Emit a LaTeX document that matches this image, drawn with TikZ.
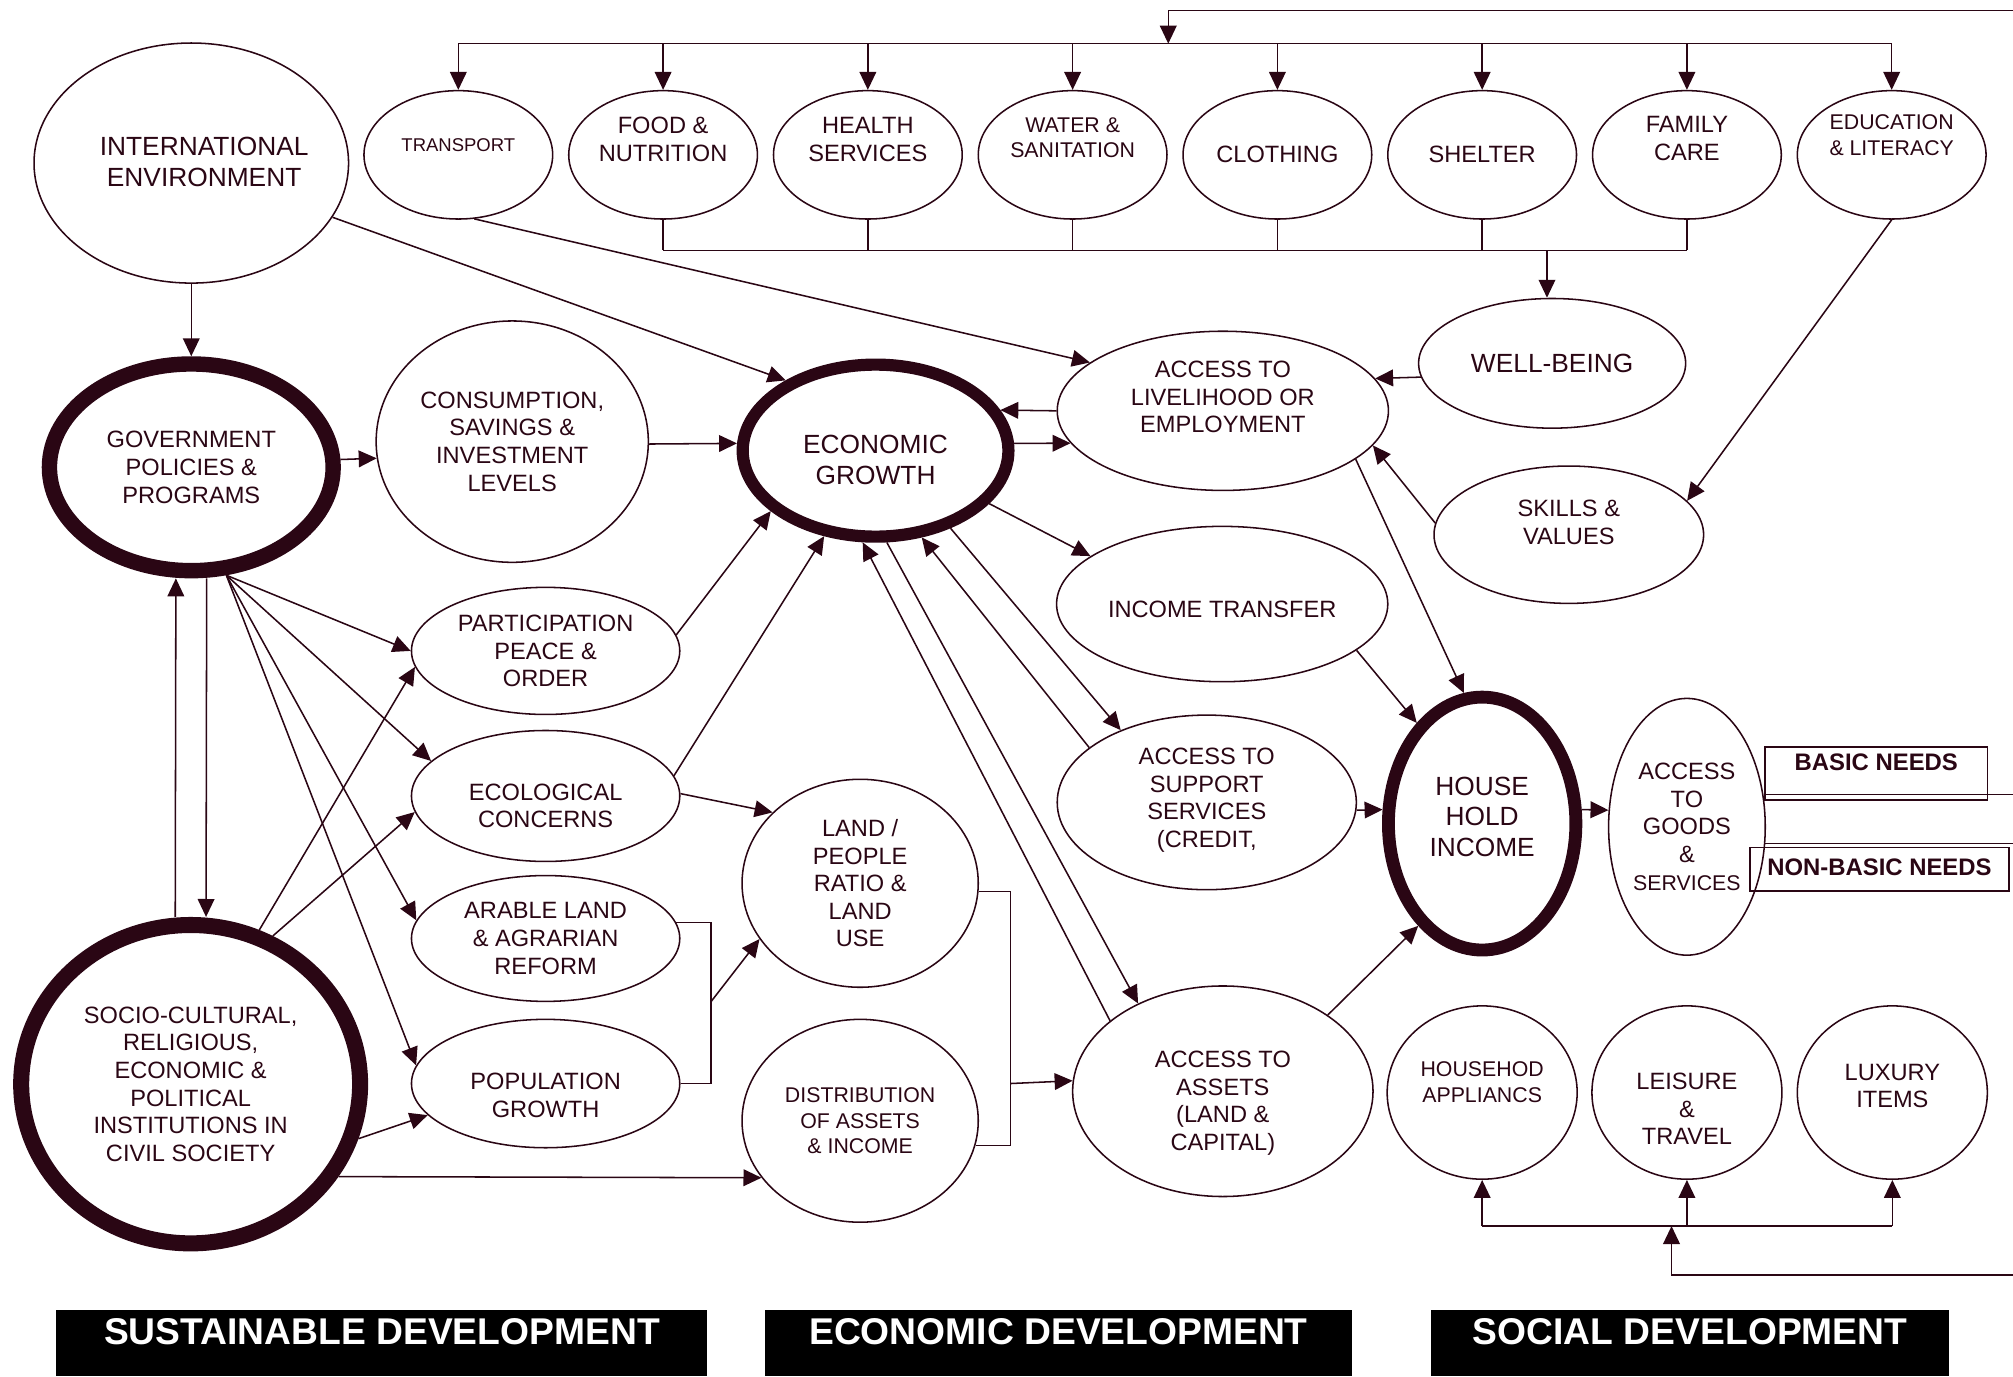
\documentclass[tikz,border=0pt]{standalone}
\usepackage{fontspec}
\setmainfont{Liberation Sans}
\usetikzlibrary{shapes.geometric}
\usetikzlibrary{arrows.meta}
\definecolor{ink}{RGB}{42,6,20}
\newcommand{\sizebig}{\fontsize{20.5}{24}\selectfont}
\newcommand{\sizenorm}{\fontsize{18.4}{21.5}\selectfont}
\newcommand{\sizesmall}{\fontsize{16.6}{20}\selectfont}
\newcommand{\sizetiny}{\fontsize{14.4}{17}\selectfont}
% stack of lines moved up (or down) inside its bubble
\newcommand{\liftup}[2]{\raisebox{#1}[0pt][0pt]{\begin{tabular}{@{}c@{}}#2\end{tabular}}}
\tikzstyle{bubble}=[draw=ink,ellipse,line width=1.2pt,inner sep=0pt,align=center,text=ink]
\tikzstyle{topbubble}=[bubble,minimum width=147pt,minimum height=100pt]
\tikzstyle{midbubble}=[bubble,minimum width=209pt,minimum height=99pt,font=\sizenorm]
\tikzstyle{lowbubble}=[bubble,minimum width=148pt,minimum height=135pt]
\tikzstyle{link}=[draw=ink,line width=1.2pt,-{Triangle[length=14pt,width=13pt]}]
\tikzstyle{wire}=[draw=ink,line width=1.2pt]
\tikzstyle{needbox}=[draw=ink,line width=1.2pt,inner sep=3pt,text=ink,text height=13.5pt,font=\bfseries\fontsize{18.6}{22}\selectfont]
\tikzstyle{banner}=[fill=black,text=white,inner sep=3pt,minimum height=52pt,text height=21pt,text depth=18.2pt,font=\bfseries\fontsize{29}{34}\selectfont]

\begin{document}
\begin{tikzpicture}[x=1pt,y=-1pt]
\useasboundingbox (0,0) rectangle (1568,1072);
% outer environment, state and society
\node[bubble,font=\sizebig,minimum width=245pt,minimum height=187pt] (intl) at (149,127) {\makebox[0pt]{\hspace*{20pt}\liftup{-6.7pt}{INTERNATIONAL\\ENVIRONMENT}}};
\node[bubble,font=\sizenorm,line width=12pt,minimum width=221pt,minimum height=161pt] (govt) at (149,364) {GOVERNMENT\\POLICIES \&\\PROGRAMS};
\node[bubble,font=\sizenorm,line width=12.5pt,minimum width=264pt,minimum height=248pt] (socio) at (148.5,844.5) {SOCIO-CULTURAL,\\RELIGIOUS,\\ECONOMIC \&\\POLITICAL\\INSTITUTIONS IN\\CIVIL SOCIETY};
% basic services along the top
\node[topbubble,font=\sizetiny] (transport) at (357,120.6) {\liftup{2.2pt}{TRANSPORT}};
\node[topbubble,font=\sizenorm] (food) at (516.5,120.6) {\liftup{5.9pt}{FOOD \&\\NUTRITION}};
\node[topbubble,font=\sizenorm] (health) at (676,120.6) {\liftup{5.9pt}{HEALTH\\SERVICES}};
\node[topbubble,font=\sizesmall] (water) at (835.5,120.6) {\liftup{7.3pt}{WATER \&\\SANITATION}};
\node[topbubble,font=\sizenorm] (cloth) at (995,120.6) {CLOTHING};
\node[topbubble,font=\sizenorm] (shelter) at (1154.5,120.6) {SHELTER};
\node[topbubble,font=\sizenorm] (family) at (1314,120.6) {\liftup{6.3pt}{FAMILY\\CARE}};
\node[topbubble,font=\sizesmall] (educ) at (1473.5,120.6) {\liftup{9.5pt}{EDUCATION\\\& LITERACY}};
% economy
\node[bubble,font=\sizenorm,minimum width=212pt,minimum height=188pt] (consump) at (399,344) {CONSUMPTION,\\SAVINGS \&\\INVESTMENT\\LEVELS};
\node[bubble,font=\sizebig,line width=9.5pt,minimum width=207pt,minimum height=134pt] (econ) at (682,351) {\liftup{-14.5pt}{ECONOMIC\\GROWTH}};
\node[midbubble] (partic) at (425,507) {PARTICIPATION\\PEACE \&\\ORDER};
\node[midbubble,minimum height=102pt] (ecol) at (425,620) {\liftup{-14pt}{ECOLOGICAL\\CONCERNS}};
\node[midbubble,minimum height=98pt] (arable) at (425,731) {ARABLE LAND\\\& AGRARIAN\\REFORM};
\node[midbubble,minimum height=100pt] (popul) at (425,844) {\liftup{-15.7pt}{POPULATION\\GROWTH}};
\node[bubble,font=\sizenorm,minimum width=184pt,minimum height=162pt] (land) at (670,688) {LAND /\\PEOPLE\\RATIO \&\\LAND\\USE};
\node[bubble,font=\sizesmall,minimum width=184pt,minimum height=158pt] (distrib) at (670,873) {DISTRIBUTION\\OF ASSETS\\\& INCOME};
\node[bubble,font=\sizenorm,minimum width=258pt,minimum height=124pt] (livelihood) at (952.5,320) {\liftup{4.4pt}{ACCESS TO\\LIVELIHOOD OR\\EMPLOYMENT}};
\node[bubble,font=\sizenorm,minimum width=258pt,minimum height=121pt] (transfer) at (952,470.5) {\liftup{-10.4pt}{INCOME TRANSFER}};
\node[bubble,font=\sizenorm,minimum width=233pt,minimum height=136pt] (support) at (940,625) {\liftup{-2.7pt}{ACCESS TO\\SUPPORT\\SERVICES\\(CREDIT,}};
\node[bubble,font=\sizenorm,minimum width=234pt,minimum height=164pt] (assets) at (952.5,850) {\liftup{-13.9pt}{ACCESS TO\\ASSETS\\(LAND \&\\CAPITAL)}};
% household side
\node[bubble,font=\sizebig,minimum width=208pt,minimum height=101pt] (wellbeing) at (1209,283) {WELL-BEING};
\node[bubble,font=\sizenorm,minimum width=210pt,minimum height=107pt] (skills) at (1222,416.5) {\liftup{3.1pt}{SKILLS \&\\VALUES}};
\node[bubble,font=\sizebig,line width=10pt,minimum width=146pt,minimum height=197pt] (hhincome) at (1154.5,641.5) {\liftup{-2.2pt}{HOUSE\\HOLD\\INCOME}};
\node[bubble,font=\sizenorm,minimum width=122pt,minimum height=200pt] (goods) at (1314,644) {ACCESS\\TO\\GOODS\\\&\\{\sizesmall SERVICES}};
\node[lowbubble,font=\sizesmall] (appl) at (1154.5,851) {\liftup{2.2pt}{HOUSEHOD\\APPLIANCS}};
\node[lowbubble,font=\sizenorm] (leisure) at (1314,851) {\liftup{-19.2pt}{LEISURE\\\&\\TRAVEL}};
\node[lowbubble,font=\sizenorm] (luxury) at (1474,851) {\liftup{-1.1pt}{LUXURY\\ITEMS}};
\node[needbox,minimum width=173pt,minimum height=41pt,text depth=18.2pt] (basic) at (1461.5,602.5) {BASIC NEEDS};
\node[needbox,minimum width=202pt,minimum height=34pt,text depth=4.2pt] (nonbasic) at (1464,677) {NON-BASIC NEEDS};

% feed into the top row
\coordinate (feedtop) at (1568,8);
\coordinate (bus) at (910,34);
\draw[link] (feedtop) -| (bus);
\draw[wire] (transport |- bus) -- (educ |- bus);
\foreach \n in {transport,food,health,water,cloth,shelter,family,educ}
  \draw[link] (\n |- bus) -- (\n.north);
% collector under the row
\coordinate (collect) at (1205,195);
\foreach \n in {food,health,water,cloth,shelter,family}
  \draw[wire] (\n.south) -- (\n |- collect);
\draw[wire] (food |- collect) -- (family |- collect);
\draw[link] (collect) -- (collect |- wellbeing.north);

% top links
\draw[link] (intl.south) -- (govt.north);
\draw[link] (intl.-21) -- (econ.142);
\draw[link] (transport.-76) -- (livelihood.160);
\draw[link] (educ.south) -- (skills.16);
\draw[link] (wellbeing.186) -- (livelihood.12);
\draw[link] (skills.175) -- (livelihood.-13);
\draw[link] (livelihood.west) -- (econ.18);
\draw[link] (econ.3) -- (livelihood.192);
\draw[link] (consump.-1) -- (econ.177);
\draw[link] (govt.3) -- (consump.187);

% growth and household income
\draw[link] (econ.-25) -- (transfer.160);
\draw[link] (livelihood.-20) -- (hhincome.98);
\draw[link] (transfer.-19) -- (hhincome.123);
\draw[link] (support.-3) -- (hhincome.172);
\draw[link] (hhincome.8) -- (goods.168);
\draw[link] (assets.36) -- (hhincome.238);
\draw[link] (econ.-46) -- (support.140);
\draw[link] (support.155) -- (econ.-62);
\draw[link] (econ.-83) -- (assets.134);
\draw[link] (assets.148) -- (econ.262);

% government and society
\draw[link] ([xshift=-12pt]socio.north) -- ([xshift=-12pt]govt.south);
\draw[link] ([xshift=12pt]govt.south) -- ([xshift=12pt]socio.north);
\draw[link] (govt.-72) -- (partic.west);
\draw[link] (govt.-72) -- (ecol.163);
\draw[link] (govt.-72) -- (arable.172);
\draw[link] (govt.-72) -- (popul.172);
\draw[link] (socio.66) -- (partic.187);
\draw[link] (socio.61) -- (ecol.187);
\draw[link] (socio.-18) -- (popul.195);
\draw[link] (socio.-32) -- (distrib.210);

% middle column
\draw[link] (partic.7) -- (econ.210);
\draw[link] (ecol.9) -- (econ.239);
\draw[link] (ecol.1) -- (land.141);
\coordinate (mergeA) at (554,780);
\draw[wire] (arable.7) -| (mergeA) |- (popul.east);
\draw[link] (mergeA) -- (land.209);
\coordinate (mergeB) at (787,844);
\draw[wire] (land.-4) -| (mergeB) |- (distrib.-12);
\draw[link] (mergeB) -- (assets.176);

% needs lines out to the right
\coordinate (basicout) at (1568,619);
\coordinate (nonbasicout) at (1568,657);
\draw[wire] (basicout -| basic.west) -- (basicout);
\draw[wire] (nonbasicout -| basic.west) -- (nonbasicout);

% non-basic goods
\coordinate (feedlow) at (1568,993);
\coordinate (fan) at (1302,955);
\draw[link] (feedlow) -| (fan);
\draw[wire] (appl |- fan) -- (luxury |- fan);
\foreach \n in {appl,leisure,luxury}
  \draw[link] (\n |- fan) -- (\n.south);

% banners
\node[banner,minimum width=507pt] (sustdev) at (297.5,1046) {SUSTAINABLE DEVELOPMENT};
\node[banner,minimum width=457pt] (econdev) at (824.5,1046) {ECONOMIC DEVELOPMENT};
\node[banner,minimum width=403pt] (socdev) at (1316.5,1046) {SOCIAL DEVELOPMENT};
\end{tikzpicture}
\end{document}
